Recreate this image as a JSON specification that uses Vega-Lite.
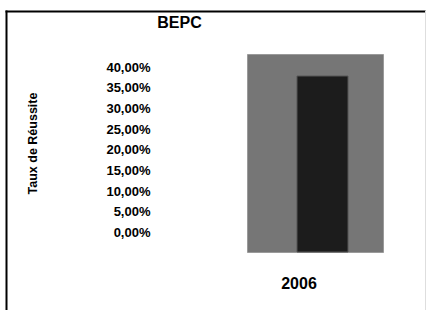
{
  "$schema": "https://vega.github.io/schema/vega-lite/v6.json",
  "width": 136,
  "height": 198,
  "autosize": {"type": "none"},
  "padding": {"left": 247, "top": 54, "right": 43, "bottom": 58},
  "background": "white",
  "title": {"text": "BEPC", "font": "Liberation Sans", "fontSize": 16, "fontWeight": "bold", "color": "black", "anchor": "middle", "frame": "group", "dx": -135.5, "dy": 24},
  "data": {"values": [{"annee": "2006", "taux": 0.378}]},
  "layer": [
    {
      "mark": {"type": "point", "opacity": 0},
      "encoding": {
        "x": {"field": "taux", "type": "quantitative", "scale": {"domain": [0, 1], "range": [-242, 183], "nice": false, "zero": false},
              "axis": {"orient": "top", "offset": 43, "domainColor": "black", "domainWidth": 2, "ticks": false, "labels": false, "grid": false, "title": null}},
        "y": {"field": "taux", "type": "quantitative", "scale": {"domain": [0, 1], "range": [262, -44], "nice": false, "zero": false},
              "axis": {"orient": "left", "offset": 241, "domainColor": "black", "domainWidth": 2, "ticks": false, "labels": false, "grid": false, "title": null}}
      }
    },
    {
      "mark": {"type": "point", "opacity": 0},
      "encoding": {
        "y": {"field": "taux", "type": "quantitative", "scale": {"domain": [0, 1], "range": [262, -44], "nice": false, "zero": false},
              "axis": {"orient": "right", "offset": 42, "domainColor": "#dedede", "domainWidth": 1, "ticks": false, "labels": false, "grid": false, "title": null}}
      }
    },
    {
      "mark": {"type": "point", "opacity": 0},
      "encoding": {
        "y": {"field": "taux", "type": "quantitative", "scale": {"domain": [0, 0.4], "range": [178.5, 13.3], "nice": false, "zero": false},
              "axis": {"orient": "left", "values": [0, 0.05, 0.1, 0.15, 0.2, 0.25, 0.3, 0.35, 0.4],
                       "labelExpr": "replace(format(datum.value, '.2%'), '.', ',')",
                       "ticks": false, "domain": false, "grid": false, "labelPadding": 97, "labelOverlap": false,
                       "labelFont": "Liberation Sans", "labelFontSize": 13, "labelFontWeight": "bold", "labelColor": "black",
                       "title": "Taux de Réussite", "titleX": -215, "titleY": 89, "titleFont": "Liberation Sans", "titleFontSize": 12.5,
                       "titleFontWeight": "bold", "titleColor": "black", "titleAngle": -90, "titleAlign": "center", "titleBaseline": "middle"}}
      }
    },
    {
      "mark": {"type": "bar", "color": "#1c1c1c", "stroke": "#555555", "strokeWidth": 1},
      "encoding": {
        "x": {"field": "annee", "type": "nominal", "scale": {"range": [50, 101], "paddingInner": 0, "paddingOuter": 0},
              "axis": {"orient": "bottom", "labelAngle": 0, "labelOffset": -23.5, "labelPadding": 23, "labelBaseline": "top", "ticks": false, "domain": false, "grid": false, "title": null,
                       "labelFont": "Liberation Sans", "labelFontSize": 16, "labelFontWeight": "bold", "labelColor": "black"}},
        "y": {"field": "taux", "type": "quantitative", "scale": {"domain": [0, 0.4253], "nice": false}, "axis": null}
      }
    }
  ],
  "resolve": {"scale": {"x": "independent", "y": "independent"}, "axis": {"x": "independent", "y": "independent"}},
  "config": {"view": {"fill": "#767676", "stroke": "#9a9a9a", "strokeWidth": 1}, "font": "Liberation Sans"}
}
